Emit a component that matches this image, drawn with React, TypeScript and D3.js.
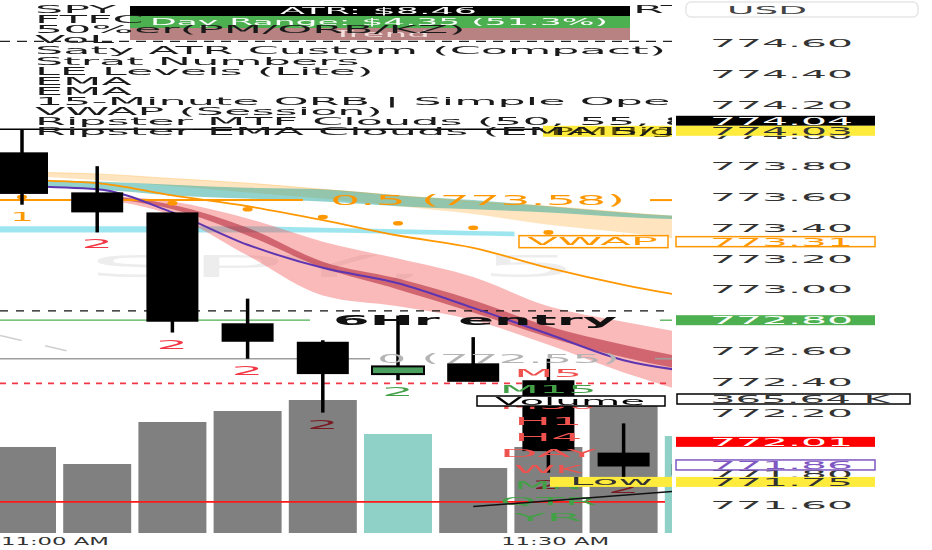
import React from "react";
import * as d3 from "d3";

// ---------- data ----------
const candleOpen = [773.89, 773.63, 773.5, 772.78, 772.66, 772.45, 772.52, 772.41, 771.94, 771.8];
const candleHigh = [774.04, 773.8, 773.5, 772.94, 772.67, 772.83, 772.69, 772.55, 772.13, 771.92];
const candleLow = [773.55, 773.37, 772.72, 772.55, 772.2, 772.41, 772.4, 771.81, 771.78, 771.75];
const candleClose = [773.62, 773.5, 772.79, 772.66, 772.45, 772.5, 772.4, 771.95, 771.85, 771.86];
const volumeK = [234.7, 188.3, 302.9, 332.9, 362.9, 270.1, 177.4, 234.7, 349.3, 264.7];

const stratLabels = ["1", "2", "2", "2", "2", "2", "", "2", "2", ""];
const stratKinds = ["1", "2d", "2d", "2d", "2d", "2u", "", "2d", "2d", ""];

const emaOrange = [773.71, 773.69, 773.61, 773.54, 773.45, 773.35, 773.27, 773.14, 773.03, 772.94];
const emaPurple = [773.67, 773.65, 773.5, 773.29, 773.14, 773.04, 772.88, 772.71, 772.54, 772.46];
const vwapDots = [773.6, 773.58, 773.56, 773.52, 773.47, 773.43, 773.4, 773.37, 773.34, 773.31];

const tealUpper = [773.71, 773.7, 773.68, 773.66, 773.65, 773.61, 773.58, 773.54, 773.5, 773.47];
const tealLower = [773.67, 773.65, 773.61, 773.59, 773.57, 773.54, 773.52, 773.5, 773.47, 773.45];
const peachUpper = [773.76, 773.75, 773.72, 773.69, 773.65, 773.61, 773.57, 773.54, 773.5, 773.46];
const peachLower = [773.74, 773.71, 773.67, 773.63, 773.59, 773.54, 773.49, 773.42, 773.37, 773.31];
const redOuterUpper = [null, 773.61, 773.57, 773.46, 773.31, 773.2, 773.08, 772.89, 772.79, 772.7];
const redOuterLower = [null, 773.59, 773.48, 773.22, 772.96, 772.89, 772.8, 772.64, 772.46, 772.31];
const redInnerUpper = [null, 773.61, 773.55, 773.4, 773.18, 773.07, 772.93, 772.76, 772.64, 772.54];
const redInnerLower = [null, 773.6, 773.52, 773.35, 773.14, 773.0, 772.85, 772.69, 772.56, 772.46];
// cyan zone starts one bar before the first visible bar
const cyanUpper = [773.41, 773.41, 773.41, 773.41, 773.41, 773.4, 773.39, 773.38];
const cyanLower = [773.37, 773.37, 773.37, 773.37, 773.37, 773.37, 773.36, 773.35];

const levelPrices = [774.61, 774.04, 773.58, 772.86, 772.8, 772.55, 772.39, 771.62];
const levelTexts = ["", "", "0.5 (773.58)", "", "6Hr entry", "0 (772.55)", "", ""];

const markerPrices = [774.04, 774.03, 773.31, 772.8, 772.01, 771.86, 771.75];
const volumeMarker = 365.64;

const stackNames = ["M5", "M15", "M30", "H1", "H4", "DAY", "WK", "MN", "QTR", "YR"];
const stackUp = [false, true, false, false, false, false, false, true, true, true];

const trendIdx = [6, 9];
const trendPrice = [771.59, 771.7];
const fadedTrendIdx = [-0.29, 0.7];
const fadedTrendPrice = [772.7, 772.59];

const tickValues = [771.6, 771.8, 772.0, 772.2, 772.4, 772.6, 772.8, 773.0, 773.2, 773.4, 773.6, 773.8, 774.0, 774.2, 774.4, 774.6];
const timeLabels = ["11:00 AM", "11:30 AM"];
const timePos = [0.27, 7.09];

const legendLines = [
  "Saty ATR Custom (Compact)",
  "Strat Numbers",
  "LE Levels (Lite)",
  "EMA",
  "EMA",
  "15-Minute ORB | Simple Opening Range",
  "VWAP (Session)",
  "Ripster MTF Clouds (50, 55, 8, 9)",
  "Ripster EMA Clouds (EMA 5/12)",
];
const headerLines = ["SPY", "FTFC", "50%er(PM/ORB/KZ)", "VoL"];
const infoBoxes = ["ATR: $8.46", "Day Range: $4.35 (51.3%)", "Trend"];

// ---------- component ----------
const FONT = "DejaVu Sans, Verdana, sans-serif";
const PLOT_R = 672;

function T(props: any) {
  const { x, y, w, size = 10.5, fill = "#222", weight = "normal", children, style } = props;
  return (
    <text
      x={x}
      y={y}
      textLength={w}
      lengthAdjust="spacingAndGlyphs"
      fontSize={size}
      fontFamily={FONT}
      fontWeight={weight}
      fill={fill}
      dominantBaseline="central"
      style={style}
    >
      {children}
    </text>
  );
}

export default function App() {
  const x = d3.scaleLinear().domain([0, 9]).range([22, 22 + 75.2 * 9]);
  const y = d3.scaleLinear().domain([771.6, 774.6]).range([505, 43]);
  const yv = d3.scaleLinear().domain([0, volumeMarker]).range([533, 399]);
  const idx = d3.range(candleOpen.length);
  const fmt = d3.format(".2f");

  const band = (up: (number | null)[], lo: (number | null)[]) =>
    d3
      .area<number>()
      .defined((i) => up[i] != null && lo[i] != null)
      .x((i) => x(i))
      .y0((i) => y(lo[i] as number))
      .y1((i) => y(up[i] as number))
      .curve(d3.curveMonotoneX)(idx) || "";
  const line = (v: number[]) =>
    d3
      .line<number>()
      .x((i) => x(i))
      .y((i) => y(v[i]))
      .curve(d3.curveMonotoneX)(idx) || "";

  const cyanPts = cyanUpper.map((u, k) => ({ i: k - 1, u, l: cyanLower[k] }));
  const lastC = cyanPts[cyanPts.length - 1];
  cyanPts.push({ i: lastC.i + 0.55, u: lastC.u - 0.005, l: lastC.l - 0.005 });
  const cyanPath =
    d3
      .area<any>()
      .x((d) => x(d.i))
      .y0((d) => y(d.l))
      .y1((d) => y(d.u))
      .curve(d3.curveMonotoneX)(cyanPts) || "";

  const bodyW = 52;
  const volW = 68;

  const levelStyle: any[] = [
    { stroke: "#222", w: 1.2, dash: "10 7" },
    { stroke: "#000", w: 1.6, dash: "" },
    { stroke: "#ff9800", w: 2, dash: "", segs: [[0, 303], [650, PLOT_R]], lx: 330, lw: 295, lc: "#ff9800", ls: 14, lwt: "normal" },
    { stroke: "#111", w: 1.3, dash: "8 8" },
    { stroke: "#4caf50", w: 1.3, dash: "", segs: [[0, 310], [660, PLOT_R]], lx: 333, lw: 284, lc: "#111", ls: 14, lwt: "bold" },
    { stroke: "#9e9e9e", w: 1.6, dash: "", segs: [[0, 370], [655, PLOT_R]], lx: 377, lw: 243, lc: "#b4b4b4", ls: 13, lwt: "normal" },
    { stroke: "#f23645", w: 1.6, dash: "6 6" },
    { stroke: "#ff1a1a", w: 1.6, dash: "", segs: [[0, 665]] },
  ];

  const markerStyle = [
    { fill: "#000", stroke: "#000", text: "#fff" },
    { fill: "#ffeb3b", stroke: "#ffeb3b", text: "#333" },
    { fill: "#fff", stroke: "#ff9800", text: "#ff9800" },
    { fill: "#4caf50", stroke: "#4caf50", text: "#fff" },
    { fill: "#ff0000", stroke: "#ff0000", text: "#fff" },
    { fill: "#fff", stroke: "#7e57c2", text: "#7e57c2" },
    { fill: "#ffeb3b", stroke: "#ffeb3b", text: "#333" },
  ];
  const LH = 10;
  const order = markerPrices.map((p, i) => ({ i, yy: y(p) })).sort((a, b) => b.yy - a.yy);
  const markerPos: number[] = [];
  let prev = Infinity;
  order.forEach((o) => {
    const pos = Math.min(o.yy, prev - LH);
    markerPos[o.i] = pos;
    prev = pos;
  });

  const stratColor = (k: string) => (k === "1" ? "#ff9800" : k === "2u" ? "#43a047" : "#f23645");
  const boxColors = ["#000", "#4caf50", "#b88282"];
  const boxText = ["#fff", "#fff", "#f3dede"];
  const boxTextPos = [
    [280, 197],
    [150, 458],
    [332, 98],
  ];
  const TIME_W = 108;

  return (
    <svg
      width={932}
      height={550}
      viewBox="0 0 932 550"
      style={{ position: "absolute", left: 0, top: 0, background: "#fff" }}
    >
      <defs>
        <clipPath id="plotClip">
          <rect x={0} y={0} width={PLOT_R} height={536} />
        </clipPath>
      </defs>
      <rect x={0} y={0} width={932} height={550} fill="#fff" />

      <g clipPath="url(#plotClip)">
        {/* watermark */}
        <T x={87} y={266} w={493} size={30} fill="#000" style={{ opacity: 0.07 }}>
          SPY, 5
        </T>

        {/* volume */}
        {idx.map((i) => (
          <rect
            key={"v" + i}
            x={x(i) - volW / 2}
            y={yv(volumeK[i])}
            width={volW}
            height={yv(0) - yv(volumeK[i])}
            fill={candleClose[i] >= candleOpen[i] ? "#8fd1c6" : "#808080"}
          />
        ))}

        {/* clouds */}
        <path d={cyanPath} fill="rgba(0,188,212,0.38)" />
        <path d={band(peachUpper, peachLower)} fill="rgba(255,152,0,0.25)" />
        <path d={band(tealUpper, tealLower)} fill="rgba(38,166,154,0.5)" />
        <path d={band(redOuterUpper, redOuterLower)} fill="rgba(239,83,80,0.4)" />
        <path d={band(redInnerUpper, redInnerLower)} fill="rgba(170,20,40,0.5)" />
        <path d={line(peachUpper)} fill="none" stroke="rgba(255,152,0,0.25)" strokeWidth={1} />

        {/* level lines */}
        {levelPrices.map((p, i) => {
          const s = levelStyle[i];
          const segs = s.segs || [[0, PLOT_R]];
          return (
            <g key={"l" + i}>
              {segs.map((sg: number[], k: number) => (
                <line
                  key={k}
                  x1={sg[0]}
                  x2={sg[1]}
                  y1={y(p)}
                  y2={y(p)}
                  stroke={s.stroke}
                  strokeWidth={s.w}
                  strokeDasharray={s.dash}
                />
              ))}
            </g>
          );
        })}

        {/* faded trend line */}
        <line
          x1={x(fadedTrendIdx[0])}
          y1={y(fadedTrendPrice[0])}
          x2={x(fadedTrendIdx[1])}
          y2={y(fadedTrendPrice[1])}
          stroke="#cfcfcf"
          strokeWidth={1.5}
          strokeDasharray="22 24"
        />

        {/* EMA lines */}
        <path d={line(emaOrange)} fill="none" stroke="#ff9800" strokeWidth={1.8} />
        <path d={line(emaPurple)} fill="none" stroke="#5e35b1" strokeWidth={2} />
        {idx.map((i) => (
          <ellipse key={"d" + i} cx={x(i)} cy={y(vwapDots[i])} rx={5} ry={2.3} fill="#ff9800" />
        ))}

        {/* candles */}
        {idx.map((i) => {
          const up = candleClose[i] > candleOpen[i];
          const top = y(Math.max(candleOpen[i], candleClose[i]));
          const bot = y(Math.min(candleOpen[i], candleClose[i]));
          return (
            <g key={"c" + i}>
              <line x1={x(i)} x2={x(i)} y1={y(candleHigh[i])} y2={y(candleLow[i])} stroke="#000" strokeWidth={3.5} />
              <rect
                x={x(i) - bodyW / 2}
                y={top}
                width={bodyW}
                height={Math.max(2, bot - top)}
                fill={up ? "#4a9f5e" : "#000"}
                stroke="#000"
                strokeWidth={up ? 2 : 0}
              />
            </g>
          );
        })}

        {/* strat numbers */}
        {idx.map((i) =>
          stratLabels[i] ? (
            <T
              key={"s" + i}
              x={x(i) - (stratLabels[i] === "1" ? 12 : 16)}
              y={y(candleLow[i]) + 12}
              w={stratLabels[i] === "1" ? 24 : 32}
              size={12}
              fill={stratColor(stratKinds[i])}
              style={{ mixBlendMode: "multiply" }}
            >
              {stratLabels[i]}
            </T>
          ) : null
        )}

        {/* level labels text */}
        {levelPrices.map((p, i) => {
          const s = levelStyle[i];
          return levelTexts[i] ? (
            <T key={"lt" + i} x={s.lx} y={y(p)} w={s.lw} size={s.ls} weight={s.lwt} fill={s.lc}>
              {levelTexts[i]}
            </T>
          ) : null;
        })}

        {/* stacked timeframe labels */}
        {stackNames.map((n, k) => {
          const w = n.length * 29 + 10;
          return (
            <T
              key={"st" + k}
              x={x(7) - w / 2}
              y={373 + k * 16.1}
              w={w}
              size={11}
              fill={stackUp[k] ? "#43a047" : "#ef5350"}
            >
              {n}
            </T>
          );
        })}

        {/* trend line */}
        <line
          x1={x(trendIdx[0])}
          y1={y(trendPrice[0])}
          x2={x(trendIdx[1])}
          y2={y(trendPrice[1])}
          stroke="#111"
          strokeWidth={1.5}
        />

        {/* in-chart label boxes */}
        <rect x={519} y={y(vwapDots[9]) - 6} width={149} height={12} fill="#fff" stroke="#ff9800" strokeWidth={1.5} />
        <T x={527} y={y(vwapDots[9])} w={131} size={11} fill="#ff9800">
          VWAP
        </T>
        <rect x={477} y={yv(volumeMarker) - 3} width={188} height={10} fill="#fff" stroke="#000" strokeWidth={1.5} />
        <T x={495} y={yv(volumeMarker) + 2} w={150} size={10} fill="#000">
          Volume
        </T>
        <rect x={550} y={y(markerPrices[6]) - 5} width={130} height={10} fill="#ffeb3b" />
        <T x={570} y={y(markerPrices[6])} w={83} size={10} fill="#333">
          Low
        </T>
        <rect x={543} y={y(markerPrices[1]) - 5} width={140} height={11} fill="#ffeb3b" />
        <T x={550} y={y(markerPrices[1]) + 0.5} w={150} size={10} fill="#5a4a00">
          PMHigh
        </T>

        {/* header info boxes */}
        {infoBoxes.map((t, k) => (
          <g key={"ib" + k}>
            <rect x={130} y={[6, 16, 28][k]} width={500} height={[10, 12, 12][k]} fill={boxColors[k]} />
            <T x={boxTextPos[k][0]} y={[11, 22, 34][k]} w={boxTextPos[k][1]} size={9} fill={boxText[k]}>
              {t}
            </T>
          </g>
        ))}

        {/* legend text */}
        {headerLines.map((t, k) => (
          <text
            key={"h" + k}
            transform={`translate(35 ${10 + k * 10}) scale(4.45 1)`}
            fontSize={10}
            fontFamily={FONT}
            fill="#1a1a1a"
            dominantBaseline="central"
          >
            {t}
          </text>
        ))}
        <text
          transform={`translate(633 10) scale(4.45 1)`}
          fontSize={10}
          fontFamily={FONT}
          fill="#1a1a1a"
          dominantBaseline="central"
        >
          RTH
        </text>
        {legendLines.map((t, k) => (
          <text
            key={"lg" + k}
            transform={`translate(35 ${51 + k * 10.1}) scale(4.45 1)`}
            fontSize={10}
            fontFamily={FONT}
            fill="#1a1a1a"
            dominantBaseline="central"
          >
            {t}
          </text>
        ))}
      </g>

      {/* price axis */}
      <rect x={686} y={2} width={232} height={15} rx={5} fill="#fff" stroke="#e6e6e6" strokeWidth={1.5} />
      <T x={727} y={10} w={80} size={10.5} fill="#444">
        USD
      </T>
      {tickValues.map((t) => (
        <T key={"t" + t} x={710} y={y(t)} w={143} size={10.5} fill="#333">
          {fmt(t)}
        </T>
      ))}
      {markerPrices.map((p, i) => {
        const s = markerStyle[i];
        return (
          <g key={"m" + i}>
            <rect
              x={676}
              y={markerPos[i] - LH / 2}
              width={199}
              height={LH}
              fill={s.fill}
              stroke={s.stroke}
              strokeWidth={s.fill === "#fff" ? 1.5 : 0}
            />
            <T x={710} y={markerPos[i]} w={143} size={10.5} fill={s.text}>
              {fmt(p)}
            </T>
          </g>
        );
      })}
      <rect x={677} y={yv(volumeMarker) - 5} width={233} height={10} fill="#fff" stroke="#000" strokeWidth={1.5} />
      <T x={710} y={yv(volumeMarker)} w={180} size={10.5} fill="#333">
        {fmt(volumeMarker) + " K"}
      </T>

      {/* time axis (labels clamped inside the pane) */}
      {timeLabels.map((t, k) => (
        <T
          key={"tl" + k}
          x={Math.max(1, x(timePos[k]) - TIME_W / 2)}
          y={541}
          w={TIME_W}
          size={11}
          fill="#333"
        >
          {t}
        </T>
      ))}
    </svg>
  );
}
